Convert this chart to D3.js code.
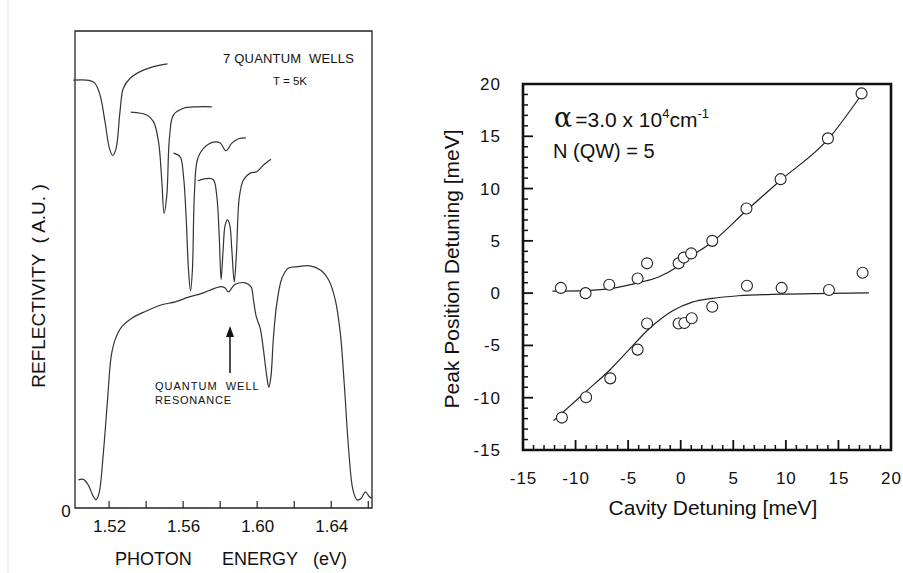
<!DOCTYPE html>
<html>
<head>
<meta charset="utf-8">
<script src="https://cdn.jsdelivr.net/npm/d3@7"></script>
<style>
  body { margin: 0; background: #fff; }
  svg { display: block; font-family: "Liberation Sans", Arial, sans-serif; }
</style>
</head>
<body>
<div id="chart"></div>
<script>
// ---- left panel data: reflectivity spectra [photon energy eV, reflectivity a.u.]
var energyTicks = [1.52, 1.54, 1.56, 1.58, 1.60, 1.62, 1.64, 1.66];
var energyLabels = [1.52, 1.56, 1.60, 1.64];

var spectrum1 = [[1.5007,89.7],[1.5097,89.6],[1.5124,89.0],[1.5151,86.6],[1.5178,81.0],[1.5202,75.4],
  [1.5220,73.9],[1.5238,75.4],[1.5259,83.1],[1.5277,88.0],[1.5314,90.1],[1.5385,91.8],[1.5458,92.7],[1.5515,93.1]];
var spectrum2 = [[1.5317,83.0],[1.5404,82.4],[1.5440,81.0],[1.5467,76.8],[1.5485,68.4],[1.5497,61.8],
  [1.5512,65.6],[1.5526,77.5],[1.5548,82.4],[1.5602,83.8],[1.5674,84.1],[1.5755,84.1]];
var spectrum3 = [[1.5548,74.4],[1.5584,73.6],[1.5602,69.5],[1.5616,61.1],[1.5629,49.9],[1.5640,45.5],
  [1.5650,49.9],[1.5661,66.0],[1.5677,73.0],[1.5710,75.4],[1.5764,76.7],[1.5800,76.5],[1.5832,74.9],
  [1.5863,76.5],[1.5899,77.4],[1.5939,77.6]];
var spectrum4 = [[1.5679,68.6],[1.5737,69.1],[1.5764,68.8],[1.5782,65.3],[1.5795,56.9],[1.5805,47.9],
  [1.5816,54.1],[1.5827,59.3],[1.5840,60.4],[1.5852,59.3],[1.5863,54.1],[1.5876,47.4],[1.5888,53.4],
  [1.5904,65.3],[1.5926,68.8],[1.5962,70.2],[1.5998,70.5],[1.6034,71.9],[1.6074,73.1]];
var spectrum5 = [[1.5034,5.9],[1.5061,6.0],[1.5088,4.8],[1.5115,2.4],[1.5130,1.7],[1.5146,3.1],
  [1.5169,11.5],[1.5193,23.3],[1.5211,31.7],[1.5232,35.2],[1.5269,38.0],[1.5323,39.8],[1.5395,41.2],
  [1.5485,42.6],[1.5557,43.2],[1.5629,44.2],[1.5701,45.0],[1.5773,46.1],[1.5809,46.4],[1.5827,46.1],
  [1.5845,45.3],[1.5866,46.3],[1.5881,46.9],[1.5935,47.2],[1.5966,46.4],[1.5980,43.6],[1.5995,40.1],
  [1.6016,37.7],[1.6034,33.1],[1.6052,27.5],[1.6063,25.3],[1.6074,27.5],[1.6088,35.9],[1.6106,42.9],
  [1.6134,48.2],[1.6169,50.3],[1.6223,50.6],[1.6277,50.8],[1.6341,49.9],[1.6386,47.8],[1.6422,43.6],
  [1.6449,36.6],[1.6470,26.1],[1.6494,12.2],[1.6517,3.8],[1.6539,1.7],[1.6561,2.0],[1.6584,3.4],
  [1.6605,2.4],[1.6618,2.0]];
var spectra = [spectrum1, spectrum2, spectrum3, spectrum4, spectrum5];

// ---- right panel data: [cavity detuning meV, peak position detuning meV]
var detuningTicks = [-15, -10, -5, 0, 5, 10, 15, 20];
var upperPeaks = [[-11.4,0.5],[-9.05,0],[-6.8,0.8],[-4.1,1.4],[-3.2,2.85],[-0.2,2.85],[0.3,3.4],
  [1.0,3.8],[3.0,5.0],[6.25,8.1],[9.5,10.9],[14.0,14.8],[17.2,19.1]];
var lowerPeaks = [[-11.3,-11.9],[-9.0,-9.95],[-6.7,-8.15],[-4.1,-5.4],[-3.2,-2.9],[-0.2,-2.9],
  [0.35,-2.85],[1.05,-2.4],[3.0,-1.3],[6.3,0.7],[9.6,0.5],[14.1,0.3],[17.3,1.95]];
var upperFit = [[-12.2,0.2],[-9,0.25],[-6.5,0.45],[-4,1.0],[-2.1,1.55],[-0.5,2.4],[0.8,3.4],
  [3,4.9],[6.25,7.9],[9.5,10.8],[14,14.7],[17.2,19.0]];
var lowerFit = [[-12.1,-12.2],[-9,-9.4],[-6.7,-7.3],[-5,-5.5],[-3,-3.4],[-0.8,-1.7],[1.1,-0.86],
  [3,-0.5],[5.5,-0.25],[9.6,-0.1],[14,-0.03],[17.9,0.03]];

var width = 903, height = 573;
var svg = d3.select("#chart").append("svg")
    .attr("width", width)
    .attr("height", height);
svg.append("rect").attr("width", width).attr("height", height).attr("fill", "#fff");

// faint scan border at the left
svg.append("line").attr("x1", 8).attr("x2", 8).attr("y1", 0).attr("y2", height)
    .attr("stroke", "#e4e4e4").attr("stroke-width", 1);

// draws a closed frame from a pair of scales
function frame(g, x, y, color, w) {
    var x0 = x.range()[0], x1 = x.range()[1], y0 = y.range()[0], y1 = y.range()[1];
    g.append("path")
        .attr("d", "M" + x0 + "," + y0 + "L" + x0 + "," + y1 + "L" + x1 + "," + y1 + "L" + x1 + "," + y0 + "Z")
        .style("fill", "none").style("stroke", color).style("stroke-width", w);
}

// ================= left panel =================
var xL = d3.scaleLinear().domain([1.5016, 1.662]).range([75, 372]);
var yL = d3.scaleLinear().domain([0, 100]).range([508, 31]);

var left = svg.append("g");
frame(left, xL, yL, "#222", 1.3);

left.selectAll("line.etick").data(energyTicks).enter().append("line")
    .attr("class", "etick")
    .attr("x1", function(d){ return xL(d); }).attr("x2", function(d){ return xL(d); })
    .attr("y1", yL(0)).attr("y2", yL(0) - 7)
    .style("stroke", "#222").style("stroke-width", 1.2);

var gxL = left.append("g").attr("transform", "translate(0," + yL(0) + ")")
    .call(d3.axisBottom(xL).tickValues(energyLabels).tickSize(0).tickPadding(12)
        .tickFormat(d3.format(".2f")));
gxL.select(".domain").remove();
gxL.selectAll(".tick text").attr("font-size", 17).attr("fill", "#111")
    .attr("font-family", "Liberation Sans, Arial, sans-serif");

left.append("text").attr("x", 66).attr("y", 517)
    .attr("text-anchor", "middle").attr("font-size", 17).attr("fill", "#111").text("0");

var lineL = d3.line().x(function(d){ return xL(d[0]); }).y(function(d){ return yL(d[1]); })
    .curve(d3.curveCatmullRom.alpha(0.5));
left.selectAll("path.spec").data(spectra).enter().append("path")
    .attr("class", "spec")
    .attr("d", lineL)
    .style("fill", "none").style("stroke", "#333").style("stroke-width", 1.2);

left.append("text").attr("x", 223).attr("y", 63)
    .attr("font-size", 13).attr("fill", "#111").style("letter-spacing", "0.2px")
    .attr("xml:space", "preserve").text("7 QUANTUM  WELLS");
left.append("text").attr("x", 273).attr("y", 85)
    .attr("font-size", 11.5).attr("fill", "#111")
    .attr("xml:space", "preserve").text("T = 5K");

left.append("text").attr("x", 155).attr("y", 390)
    .attr("font-size", 11).attr("fill", "#111").style("letter-spacing", "1px")
    .attr("xml:space", "preserve").text("QUANTUM  WELL");
left.append("text").attr("x", 155).attr("y", 403.5)
    .attr("font-size", 11).attr("fill", "#111").style("letter-spacing", "0.8px")
    .text("RESONANCE");

left.append("line").attr("x1", 230).attr("x2", 230).attr("y1", 373).attr("y2", 334)
    .style("stroke", "#111").style("stroke-width", 1.5);
left.append("path").attr("d", "M226,337 L230,326 L234,337 Z").style("fill", "#111");

left.append("text")
    .attr("transform", "translate(45,286) rotate(-90)")
    .attr("text-anchor", "middle").attr("font-size", 19).attr("fill", "#111")
    .attr("xml:space", "preserve")
    .text("REFLECTIVITY  ( A.U. )");

var xtitle = left.append("text").attr("y", 565).attr("font-size", 18).attr("fill", "#111");
xtitle.append("tspan").attr("x", 115).text("PHOTON");
xtitle.append("tspan").attr("x", 222).text("ENERGY");
xtitle.append("tspan").attr("x", 313).text("(eV)");

// ================= right panel =================
var xR = d3.scaleLinear().domain([-15, 20]).range([523, 891]);
var yR = d3.scaleLinear().domain([-15, 20]).range([450, 84]);

var right = svg.append("g");
var minor = d3.range(-15, 21, 1);
var isMajor = function(d){ return d % 5 === 0; };

frame(right, xR, yR, "#111", 2.6);

// inward ticks on left and bottom
right.selectAll("line.ytick").data(minor.slice(1, -1)).enter().append("line")
    .attr("class", "ytick")
    .attr("x1", xR(-15)).attr("x2", function(d){ return xR(-15) + (isMajor(d) ? 10 : 5); })
    .attr("y1", function(d){ return yR(d); }).attr("y2", function(d){ return yR(d); })
    .style("stroke", "#111").style("stroke-width", function(d){ return isMajor(d) ? 1.8 : 1.5; });
right.selectAll("line.xtick").data(minor.slice(1, -1)).enter().append("line")
    .attr("class", "xtick")
    .attr("y1", yR(-15)).attr("y2", function(d){ return yR(-15) - (isMajor(d) ? 10 : 5); })
    .attr("x1", function(d){ return xR(d); }).attr("x2", function(d){ return xR(d); })
    .style("stroke", "#111").style("stroke-width", function(d){ return isMajor(d) ? 1.8 : 1.5; });

// tick labels
var fmt = function(d){ return String(d); };
var gyR = right.append("g").attr("transform", "translate(" + xR(-15) + ",0)")
    .call(d3.axisLeft(yR).tickValues(detuningTicks).tickSize(0).tickPadding(22).tickFormat(fmt));
gyR.select(".domain").remove();
gyR.selectAll(".tick text").attr("font-size", 17).attr("fill", "#111")
    .attr("font-family", "Liberation Sans, Arial, sans-serif").style("letter-spacing", "1px");

var gxR = right.append("g").attr("transform", "translate(0," + yR(-15) + ")")
    .call(d3.axisBottom(xR).tickValues(detuningTicks).tickSize(0).tickPadding(22).tickFormat(fmt));
gxR.select(".domain").remove();
gxR.selectAll(".tick text").attr("font-size", 17).attr("fill", "#111")
    .attr("font-family", "Liberation Sans, Arial, sans-serif").style("letter-spacing", "1px");

// fitted dispersion lines
var lineR = d3.line().x(function(d){ return xR(d[0]); }).y(function(d){ return yR(d[1]); })
    .curve(d3.curveMonotoneX);
right.selectAll("path.fit").data([upperFit, lowerFit]).enter().append("path")
    .attr("class", "fit")
    .attr("d", lineR)
    .style("fill", "none").style("stroke", "#222").style("stroke-width", 1.2);

// measured peaks
right.selectAll("circle.pk").data(upperPeaks.concat(lowerPeaks)).enter().append("circle")
    .attr("class", "pk")
    .attr("cx", function(d){ return xR(d[0]); })
    .attr("cy", function(d){ return yR(d[1]); })
    .attr("r", 5.5)
    .style("fill", "#fff").style("stroke", "#222").style("stroke-width", 1.1);

// annotation
var ann = right.append("text").attr("x", 554).attr("y", 127).attr("fill", "#111");
ann.append("tspan").attr("font-family", "'DejaVu Serif', 'Liberation Serif', serif").attr("font-size", 27).text("\u03b1");
ann.append("tspan").attr("font-size", 21).attr("dx", 3).text("=3.0 x 10");
ann.append("tspan").attr("font-size", 13).attr("dy", -9).text("4");
ann.append("tspan").attr("font-size", 21).attr("dy", 9).text("cm");
ann.append("tspan").attr("font-size", 13).attr("dy", -9).text("-1");

right.append("text").attr("x", 553).attr("y", 158)
    .attr("font-size", 20).attr("fill", "#111").text("N (QW) = 5");

right.append("text")
    .attr("transform", "translate(459,269) rotate(-90)")
    .attr("text-anchor", "middle").attr("font-size", 21).attr("fill", "#111")
    .text("Peak Position Detuning [meV]");

right.append("text").attr("x", 713).attr("y", 515)
    .attr("text-anchor", "middle").attr("font-size", 21).attr("fill", "#111")
    .text("Cavity Detuning [meV]");
</script>
</body>
</html>
